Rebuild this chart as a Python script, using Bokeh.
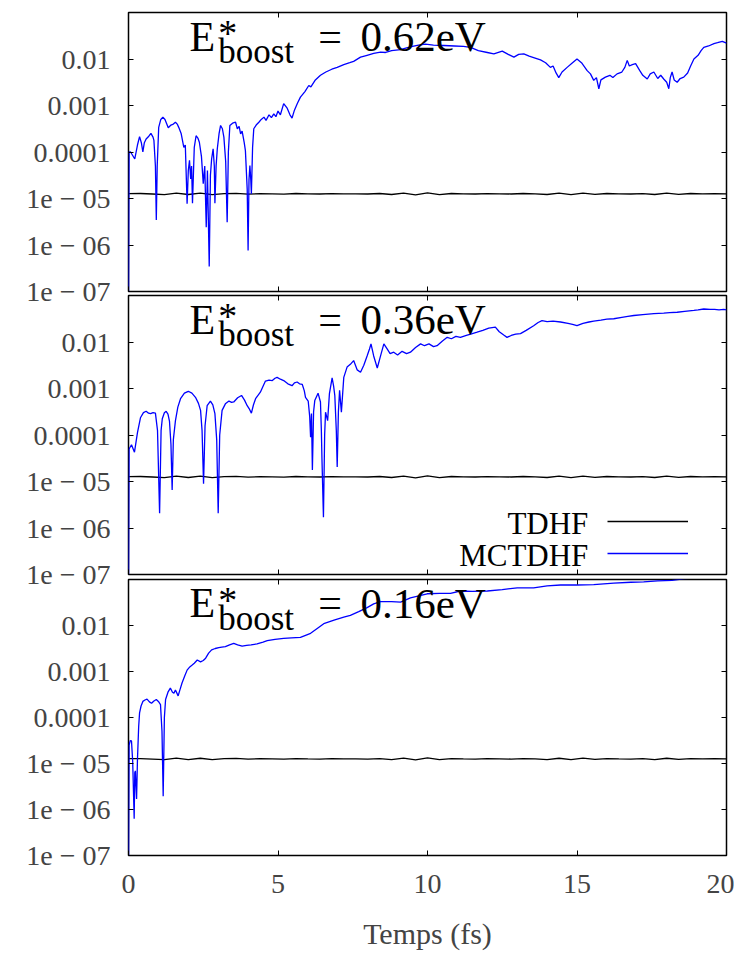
import numpy as np
from bokeh.plotting import figure
from bokeh.layouts import column
from bokeh.models import (Range1d, LogAxis, LinearAxis, FixedTicker, Label,
                          Legend, LegendItem, CustomJSTickFormatter)
from bokeh.embed import file_html
from bokeh.resources import INLINE

FONT = "Liberation Serif"

# ---------------- data ----------------
x_ticks = [0, 5, 10, 15, 20]
x_tick_labels = ["0", "5", "10", "15", "20"]
y_ticks = [1e-7, 1e-6, 1e-5, 1e-4, 1e-3, 1e-2]
y_tick_labels = ["1e − 07", "1e − 06", "1e − 05", "0.0001", "0.001", "0.01"]
panel_energies = ["0.62eV", "0.36eV", "0.16eV"]
series_names = ["TDHF", "MCTDHF"]
x_label = "Temps (fs)"

# TDHF (same small oscillation around ~1.25e-5 in every panel)
tdhf_t = [0.0, 0.4, 0.8, 1.2, 1.6, 2.0, 2.4, 2.8, 3.2, 3.6, 4.0, 4.4, 4.8, 5.2, 5.6,
          6.0, 6.4, 6.8, 7.2, 7.6, 8.0, 8.4, 8.8, 9.2, 9.6, 10.0, 10.4, 10.8, 11.2,
          11.6, 12.0, 12.4, 12.8, 13.2, 13.6, 14.0, 14.4, 14.8, 15.2, 15.6, 16.0,
          16.4, 16.8, 17.2, 17.6, 18.0, 18.4, 18.8, 19.2, 19.6, 20.0]
tdhf_val = [1.27e-5, 1.28e-5, 1.25e-5, 1.21e-5, 1.31e-5, 1.22e-5, 1.30e-5, 1.21e-5,
            1.27e-5, 1.29e-5, 1.24e-5, 1.27e-5, 1.26e-5, 1.24e-5, 1.28e-5, 1.26e-5,
            1.25e-5, 1.27e-5, 1.26e-5, 1.26e-5, 1.25e-5, 1.28e-5, 1.22e-5, 1.31e-5,
            1.20e-5, 1.32e-5, 1.21e-5, 1.28e-5, 1.26e-5, 1.25e-5, 1.27e-5, 1.26e-5,
            1.25e-5, 1.28e-5, 1.26e-5, 1.22e-5, 1.30e-5, 1.21e-5, 1.31e-5, 1.23e-5,
            1.28e-5, 1.26e-5, 1.25e-5, 1.27e-5, 1.22e-5, 1.30e-5, 1.23e-5, 1.28e-5,
            1.26e-5, 1.27e-5, 1.26e-5]

# MCTDHF, E*boost = 0.62 eV  (time in fs, log10 of the value)
mc062_t = [0.0, 0.02, 0.07, 0.21, 0.3, 0.37, 0.43, 0.48, 0.53, 0.59, 0.68, 0.75, 0.82, 0.85,
           0.9, 0.93, 0.96, 1.01, 1.08, 1.15, 1.22, 1.33, 1.42, 1.5, 1.57, 1.63, 1.68, 1.76,
           1.85, 1.9, 1.96, 2.0, 2.04, 2.08, 2.11, 2.14, 2.2, 2.26, 2.32, 2.37, 2.44, 2.5,
           2.55, 2.6, 2.64, 2.7, 2.74, 2.78, 2.83, 2.87, 2.89, 2.93, 2.97, 3.03, 3.08, 3.14,
           3.19, 3.25, 3.3, 3.34, 3.39, 3.48, 3.58, 3.64, 3.7, 3.75, 3.8, 3.87, 3.91, 3.97,
           4.0, 4.03, 4.06, 4.09, 4.11, 4.15, 4.19, 4.27, 4.36, 4.44, 4.53, 4.6, 4.7, 4.78,
           4.86, 4.93, 5.0, 5.08, 5.19, 5.3, 5.4, 5.47, 5.55, 5.65, 5.75, 5.9, 6.03, 6.1,
           6.25, 6.42, 6.6, 6.8, 6.98, 7.2, 7.4, 7.53, 7.76, 7.98, 8.2, 8.43, 8.6, 8.8, 9.1,
           9.3, 9.5, 9.7, 9.93, 10.2, 10.55, 10.9, 11.2, 11.44, 11.7, 12.0, 12.22, 12.5,
           12.7, 12.89, 13.05, 13.22, 13.4, 13.6, 13.78, 13.95, 14.11, 14.2, 14.3, 14.39,
           14.5, 14.67, 14.85, 15.0, 15.15, 15.34, 15.45, 15.56, 15.65, 15.73, 15.8, 15.95,
           16.1, 16.2, 16.34, 16.5, 16.6, 16.68, 16.75, 16.85, 16.96, 17.1, 17.2, 17.35,
           17.45, 17.57, 17.7, 17.8, 17.9, 18.0, 18.07, 18.12, 18.18, 18.25, 18.35, 18.45,
           18.57, 18.7, 18.8, 18.91, 19.05, 19.15, 19.24, 19.4, 19.58, 19.7, 19.86, 20.0]
mc062_log = [-7.5, -4.0, -4.0, -4.15, -3.85, -3.67, -3.8, -4.0, -3.8, -3.72, -3.66, -3.6,
             -3.68, -3.75, -4.3, -5.46, -4.3, -3.47, -3.3, -3.25, -3.3, -3.48, -3.42, -3.4,
             -3.36, -3.4, -3.47, -3.6, -3.9, -3.85, -5.11, -4.4, -4.18, -4.58, -4.3, -5.1,
             -3.9, -3.65, -3.7, -3.79, -4.1, -4.68, -4.3, -5.62, -4.4, -6.46, -4.5, -4.15,
             -3.93, -4.3, -5.1, -4.3, -3.93, -3.6, -3.43, -3.5, -3.68, -4.2, -5.51, -4.0,
             -3.43, -3.38, -3.36, -3.5, -3.45, -3.61, -3.55, -3.8, -3.97, -4.8, -6.12, -4.6,
             -4.29, -4.6, -4.9, -3.9, -3.5, -3.42, -3.36, -3.3, -3.25, -3.32, -3.2, -3.26,
             -3.18, -3.24, -3.12, -3.2, -2.96, -3.05, -3.2, -3.27, -3.1, -2.95, -2.82, -2.7,
             -2.57, -2.6, -2.45, -2.35, -2.28, -2.22, -2.18, -2.12, -2.08, -2.05, -1.96,
             -1.92, -1.88, -1.85, -1.86, -1.82, -1.8, -1.76, -1.73, -1.7, -1.68, -1.7, -1.71,
             -1.72, -1.73, -1.75, -1.82, -1.86, -1.89, -1.83, -1.9, -1.96, -1.9, -1.89,
             -1.94, -1.98, -2.02, -2.08, -2.18, -2.15, -2.3, -2.4, -2.28, -2.18, -2.08, -2.0,
             -2.08, -2.25, -2.32, -2.46, -2.4, -2.64, -2.45, -2.39, -2.35, -2.4, -2.32,
             -2.28, -2.18, -2.03, -2.15, -2.12, -2.1, -2.25, -2.35, -2.43, -2.32, -2.28,
             -2.42, -2.35, -2.43, -2.5, -2.64, -2.4, -2.28, -2.45, -2.5, -2.42, -2.39, -2.3,
             -2.15, -2.0, -1.92, -1.82, -1.75, -1.72, -1.67, -1.65, -1.62, -1.66]

# MCTDHF, E*boost = 0.36 eV
mc036_t = [0.0, 0.02, 0.1, 0.2, 0.3, 0.4, 0.5, 0.59, 0.67, 0.74, 0.82, 0.9, 0.97, 1.04, 1.09,
           1.13, 1.2, 1.26, 1.32, 1.37, 1.42, 1.46, 1.5, 1.57, 1.65, 1.74, 1.87, 2.0, 2.12,
           2.24, 2.34, 2.41, 2.46, 2.51, 2.56, 2.63, 2.74, 2.82, 2.89, 2.95, 3.0, 3.05, 3.13,
           3.24, 3.36, 3.45, 3.52, 3.65, 3.78, 3.88, 3.97, 4.05, 4.11, 4.18, 4.25, 4.33,
           4.41, 4.5, 4.58, 4.7, 4.81, 4.9, 4.97, 5.08, 5.19, 5.33, 5.47, 5.55, 5.64, 5.72,
           5.81, 5.88, 5.92, 6.01, 6.06, 6.09, 6.12, 6.15, 6.19, 6.23, 6.34, 6.42, 6.45,
           6.47, 6.52, 6.56, 6.59, 6.66, 6.72, 6.81, 6.86, 6.9, 6.95, 6.98, 7.02, 7.06,
           7.12, 7.2, 7.31, 7.42, 7.53, 7.65, 7.76, 7.87, 7.98, 8.06, 8.11, 8.2, 8.32, 8.43,
           8.54, 8.65, 8.75, 8.87, 9.0, 9.15, 9.3, 9.43, 9.6, 9.77, 9.9, 10.05, 10.2, 10.32,
           10.5, 10.66, 10.8, 10.95, 11.1, 11.3, 11.5, 11.66, 11.85, 12.05, 12.27, 12.4,
           12.55, 12.66, 12.8, 12.95, 13.11, 13.3, 13.55, 13.7, 13.83, 14.0, 14.2, 14.45,
           14.7, 14.85, 15.0, 15.2, 15.4, 15.56, 15.8, 16.0, 16.23, 16.5, 16.7, 16.9, 17.2,
           17.57, 17.9, 18.1, 18.35, 18.6, 18.91, 19.05, 19.24, 19.45, 19.6, 19.75, 19.91,
           20.0]
mc036_log = [-7.5, -4.3, -4.21, -4.37, -3.95, -3.63, -3.52, -3.49, -3.53, -3.54, -3.52,
             -3.53, -3.9, -5.68, -3.9, -3.65, -3.52, -3.49, -3.55, -3.7, -4.2, -5.18, -4.1,
             -3.69, -3.4, -3.22, -3.1, -3.06, -3.1, -3.19, -3.32, -3.47, -3.9, -5.05, -3.8,
             -3.37, -3.27, -3.35, -3.54, -4.1, -5.68, -4.0, -3.47, -3.33, -3.27, -3.3, -3.29,
             -3.2, -3.15, -3.25, -3.37, -3.45, -3.53, -3.35, -3.22, -3.15, -3.08, -2.95,
             -2.84, -2.82, -2.83, -2.78, -2.76, -2.8, -2.83, -2.9, -2.94, -2.88, -2.86, -2.9,
             -2.91, -3.05, -3.19, -3.27, -3.6, -4.05, -3.54, -4.75, -3.5, -3.26, -3.1, -3.29,
             -3.9, -4.51, -5.77, -4.0, -3.51, -3.69, -3.11, -2.77, -2.95, -3.15, -3.9, -4.69,
             -3.5, -3.04, -3.51, -2.76, -2.54, -2.48, -2.4, -2.6, -2.65, -2.5, -2.3, -2.15,
             -2.04, -2.3, -2.56, -2.3, -2.04, -2.15, -2.25, -2.22, -2.28, -2.2, -2.25, -2.22,
             -2.12, -2.04, -2.08, -2.04, -2.1, -2.08, -1.98, -1.9, -1.93, -1.88, -1.9, -1.86,
             -1.82, -1.79, -1.75, -1.7, -1.68, -1.78, -1.85, -1.9, -1.86, -1.83, -1.82,
             -1.75, -1.65, -1.58, -1.54, -1.56, -1.55, -1.57, -1.6, -1.62, -1.65, -1.6,
             -1.57, -1.55, -1.53, -1.51, -1.5, -1.47, -1.45, -1.43, -1.41, -1.39, -1.38,
             -1.37, -1.36, -1.34, -1.32, -1.31, -1.29, -1.3, -1.3, -1.31, -1.3, -1.31]

# MCTDHF, E*boost = 0.16 eV
mc016_t = [0.0, 0.02, 0.06, 0.1, 0.14, 0.19, 0.21, 0.23, 0.25, 0.27, 0.3, 0.34, 0.37, 0.42,
           0.48, 0.55, 0.62, 0.7, 0.77, 0.85, 0.93, 1.0, 1.07, 1.12, 1.16, 1.2, 1.24, 1.32,
           1.4, 1.47, 1.52, 1.57, 1.66, 1.72, 1.79, 1.88, 1.96, 2.05, 2.13, 2.2, 2.3, 2.41,
           2.5, 2.58, 2.68, 2.78, 2.9, 3.02, 3.12, 3.24, 3.38, 3.52, 3.65, 3.8, 3.95, 4.1,
           4.3, 4.5, 4.64, 4.9, 5.19, 5.45, 5.75, 5.9, 6.09, 6.3, 6.53, 6.9, 7.2, 7.42, 7.7,
           7.98, 8.2, 8.43, 8.8, 9.1, 9.43, 9.99, 10.4, 10.77, 11.1, 11.5, 12.0, 12.5, 13.0,
           13.55, 14.0, 14.45, 15.0, 15.56, 16.23, 16.8, 17.23, 17.7, 18.18, 18.6, 19.2,
           20.0]
mc016_log = [-7.5, -4.6, -4.5, -4.51, -4.95, -6.2, -5.2, -5.16, -5.5, -5.77, -4.91, -4.2,
             -3.9, -3.75, -3.65, -3.62, -3.6, -3.66, -3.69, -3.64, -3.61, -3.65, -3.72, -4.3,
             -5.71, -4.0, -3.61, -3.45, -3.36, -3.45, -3.47, -3.4, -3.53, -3.4, -3.25, -3.1,
             -2.97, -2.9, -2.86, -2.82, -2.75, -2.79, -2.76, -2.71, -2.6, -2.53, -2.5, -2.48,
             -2.47, -2.46, -2.42, -2.39, -2.42, -2.45, -2.43, -2.42, -2.4, -2.36, -2.33,
             -2.3, -2.28, -2.27, -2.26, -2.22, -2.17, -2.07, -1.96, -1.88, -1.82, -1.78,
             -1.7, -1.61, -1.53, -1.48, -1.48, -1.49, -1.4, -1.31, -1.3, -1.3, -1.25, -1.26,
             -1.25, -1.22, -1.18, -1.18, -1.14, -1.12, -1.12, -1.11, -1.08, -1.06, -1.05,
             -1.03, -1.02, -0.98, -0.96, -0.93]

panels = [(mc062_t, mc062_log), (mc036_t, mc036_log), (mc016_t, mc016_log)]

BLUE = "#0000ff"
BLACK = "#000000"


def hidden_labels(axis):
    axis.formatter = CustomJSTickFormatter(code="return ''")
    axis.major_label_text_font_size = "0px"
    axis.major_label_standoff = 0


def style_axis(axis):
    axis.axis_line_color = None
    axis.major_tick_in = 5
    axis.major_tick_out = 0
    axis.major_tick_line_color = "black"
    axis.major_tick_line_width = 1
    axis.minor_tick_line_color = None


def make_panel(idx, height, top, bottom, show_x):
    p = figure(width=734, height=height,
               x_range=Range1d(0, 20), y_range=Range1d(1e-7, 1e-1),
               y_axis_type="log", output_backend="svg", toolbar_location=None,
               min_border_left=128, min_border_right=8,
               min_border_top=top, min_border_bottom=bottom)
    p.border_fill_alpha = 0
    p.background_fill_color = "white"
    p.outline_line_color = "black"
    p.outline_line_width = 1.5
    p.grid.visible = False

    # left y axis with labels
    ya = p.yaxis[0]
    ya.ticker = FixedTicker(ticks=y_ticks)
    ya.major_label_overrides = dict(zip(y_ticks, y_tick_labels))
    ya.major_label_text_font = FONT
    ya.major_label_text_font_size = "28px"
    ya.major_label_standoff = 18
    style_axis(ya)

    # bottom x axis
    xa = p.xaxis[0]
    xa.ticker = FixedTicker(ticks=x_ticks)
    style_axis(xa)
    if show_x:
        xa.major_label_overrides = dict(zip(x_ticks, x_tick_labels))
        xa.major_label_text_font = FONT
        xa.major_label_text_font_size = "28px"
        xa.major_label_standoff = 19
        xa.axis_label = x_label
        xa.axis_label_text_font = FONT
        xa.axis_label_text_font_size = "30px"
        xa.axis_label_text_font_style = "normal"
        xa.axis_label_standoff = 21
    else:
        hidden_labels(xa)

    # mirrored ticks
    top_ax = LinearAxis(ticker=FixedTicker(ticks=x_ticks))
    style_axis(top_ax)
    hidden_labels(top_ax)
    p.add_layout(top_ax, "above")
    right_ax = LogAxis(ticker=FixedTicker(ticks=y_ticks))
    style_axis(right_ax)
    hidden_labels(right_ax)
    p.add_layout(right_ax, "right")

    t_mc, log_mc = panels[idx]
    r_tdhf = p.line(tdhf_t, tdhf_val, line_color=BLACK, line_width=1.3)
    r_mc = p.line(t_mc, 10.0 ** np.array(log_mc), line_color=BLUE, line_width=1.3)

    # panel title  E*_boost = ...
    for txt, tx, ty, size in [("E", 2.04, 10 ** -1.52, "42px"),
                              ("*", 3.0, 10 ** -1.44, "38px"),
                              ("boost", 3.0, 10 ** -1.84, "35px"),
                              ("=", 6.35, 10 ** -1.52, "42px"),
                              (panel_energies[idx], 7.76, 10 ** -1.52, "43px")]:
        p.add_layout(Label(x=tx, y=ty, text=txt, text_font=FONT,
                           text_font_size=size, text_baseline="alphabetic",
                           text_color="black"))

    if idx == 1:
        for name, ty in [(series_names[0], 10 ** -5.90), (series_names[1], 10 ** -6.60)]:
            p.add_layout(Label(x=15.38, y=ty, text=name, text_font=FONT,
                               text_font_size="31px", text_align="right",
                               text_baseline="alphabetic", text_color="black"))
        leg = Legend(items=[LegendItem(label=" ", renderers=[r_tdhf]),
                            LegendItem(label=" ", renderers=[r_mc])],
                     location=(479, 5), orientation="vertical",
                     glyph_width=81, glyph_height=32, label_height=32,
                     label_width=0, label_standoff=0, spacing=0, padding=0,
                     margin=0, border_line_color=None, background_fill_alpha=0,
                     label_text_font_size="1px")
        p.add_layout(leg)
    return p


p1 = make_panel(0, 311, 12, 20, False)
p2 = make_panel(1, 319, 20, 20, False)
p2.margin = (-36, 0, 0, 0)
p3 = make_panel(2, 393, 20, 95, True)
p3.margin = (-35, 0, 0, 0)

layout = column(p1, p2, p3, spacing=0)
open("out.html", "w").write(file_html(layout, INLINE))
